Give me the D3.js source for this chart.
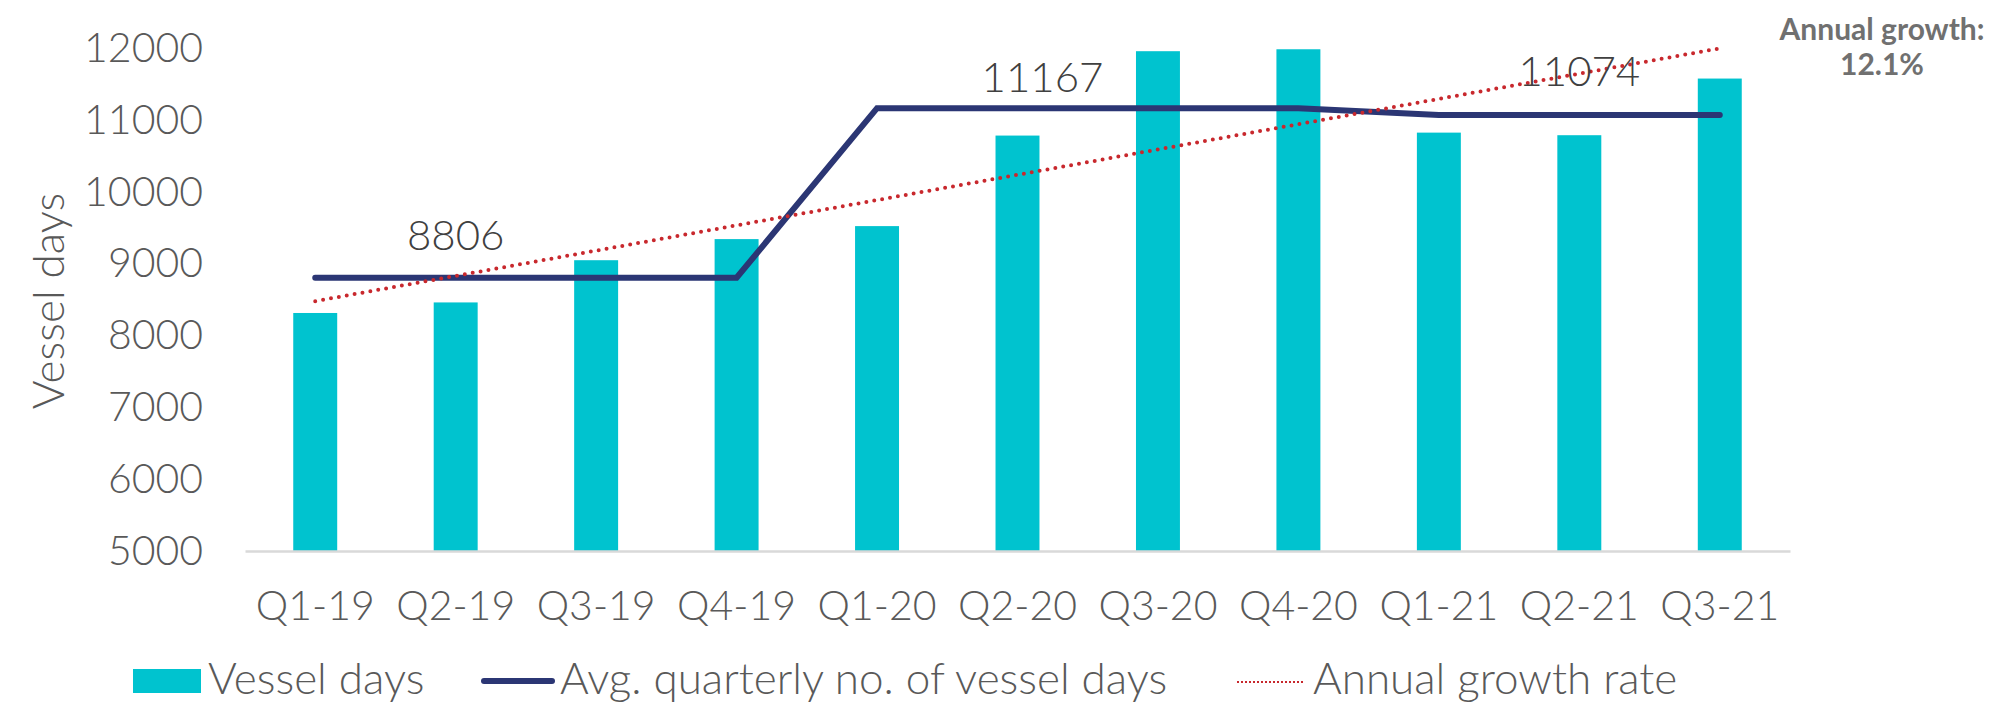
<!DOCTYPE html>
<html>
<head>
<meta charset="utf-8">
<script src="https://cdn.jsdelivr.net/npm/d3@7"></script>
<style>
  body { margin: 0; background: #fff; }
  svg { display: block; font-family: Lato, "Open Sans", sans-serif; font-weight: 300; }
</style>
</head>
<body>
<svg id="chart" width="1998" height="703"></svg>
<script>
var quarters = ["Q1-19", "Q2-19", "Q3-19", "Q4-19", "Q1-20", "Q2-20", "Q3-20", "Q4-20", "Q1-21", "Q2-21", "Q3-21"];
var vesselDays = [8315, 8462, 9050, 9344, 9525, 10786, 11961, 11988, 10827, 10791, 11580];
var avgQuarterly = [8806, 8806, 8806, 8806, 11167, 11167, 11167, 11167, 11074, 11074, 11074];
var trendQuarters = ["Q1-19", "Q3-21"];
var trendValues = [8480, 12000];
var yTicks = [5000, 6000, 7000, 8000, 9000, 10000, 11000, 12000];
var avgLabelQuarters = ["Q2-19", "Q2-20", "Q2-21"];
var avgLabelValues = [8806, 11167, 11074];

var svg = d3.select("svg#chart");

var x = d3.scaleBand()
    .domain(quarters)
    .range([245, 1790])
    .paddingInner(0.687)
    .paddingOuter(0.3435);

var y = d3.scaleLinear()
    .domain([5000, 12000])
    .range([551, 48.4]);

var cx = function(q) { return x(q) + x.bandwidth() / 2; };

// y axis
var yAxis = svg.append("g")
    .attr("transform", "translate(245,0)")
    .call(d3.axisLeft(y).tickValues(yTicks).tickSize(0).tickPadding(42).tickFormat(d3.format("d")));
yAxis.select(".domain").remove();
yAxis.selectAll("text")
    .attr("fill", "#595959")
    .style("font-size", "41px")
    .style("font-family", "Lato, sans-serif")
    .style("font-weight", 300);

svg.append("text")
    .attr("transform", "translate(64,301) rotate(-90)")
    .attr("text-anchor", "middle")
    .attr("fill", "#595959")
    .style("font-size", "44px")
    .text("Vessel days");

// bars
svg.append("g").selectAll("rect")
    .data(quarters)
    .enter().append("rect")
      .attr("x", function(d) { return x(d); })
      .attr("width", x.bandwidth())
      .attr("y", function(d, i) { return y(vesselDays[i]); })
      .attr("height", function(d, i) { return y(5000) - y(vesselDays[i]); })
      .attr("fill", "#00C3CF");

// x axis
var xAxis = svg.append("g")
    .attr("transform", "translate(0," + y(5000) + ")")
    .call(d3.axisBottom(x).tickSize(0).tickSizeOuter(0).tickPadding(40));
xAxis.select(".domain")
    .attr("stroke", "#D9D9D9")
    .attr("stroke-width", 2.5);
xAxis.selectAll("text")
    .attr("fill", "#595959")
    .style("font-size", "41px")
    .style("font-family", "Lato, sans-serif")
    .style("font-weight", 300);

// average line
var avgLine = d3.line()
    .x(function(d) { return cx(d); })
    .y(function(d, i) { return y(avgQuarterly[i]); });

svg.append("path")
    .datum(quarters)
    .attr("d", avgLine)
    .attr("fill", "none")
    .attr("stroke", "#2B3674")
    .attr("stroke-width", 6)
    .attr("stroke-linecap", "round");

// trend line
var trendLine = d3.line()
    .x(function(d) { return cx(d); })
    .y(function(d, i) { return y(trendValues[i]); });

svg.append("path")
    .datum(trendQuarters)
    .attr("d", trendLine)
    .attr("fill", "none")
    .attr("stroke", "#C8282D")
    .attr("stroke-width", 4)
    .attr("stroke-linecap", "round")
    .attr("stroke-dasharray", "0 8");

// average labels
var labelDx = [0, 25, 0];
var labelDy = [-28, -16, -29];
svg.append("g").selectAll("text")
    .data(avgLabelQuarters)
    .enter().append("text")
      .attr("x", function(d, i) { return cx(d) + labelDx[i]; })
      .attr("y", function(d, i) { return y(avgLabelValues[i]) + labelDy[i]; })
      .attr("text-anchor", "middle")
      .attr("fill", "#404040")
      .style("font-size", "42px")
      .text(function(d, i) { return avgLabelValues[i]; });

// annotation
var note = svg.append("text")
    .attr("text-anchor", "middle")
    .attr("fill", "#707070")
    .style("font-size", "30px")
    .style("font-weight", "bold");
note.append("tspan").attr("x", 1882).attr("y", 40).text("Annual growth:");
note.append("tspan").attr("x", 1882).attr("y", 75).text("12.1%");

// legend
var legend = svg.append("g").style("font-size", "44px").attr("fill", "#595959");

legend.append("rect")
    .attr("x", 133).attr("y", 669).attr("width", 68).attr("height", 24)
    .attr("fill", "#00C3CF");
legend.append("text").attr("x", 208).attr("y", 694).text("Vessel days");

legend.append("line")
    .attr("x1", 484).attr("x2", 552).attr("y1", 681).attr("y2", 681)
    .attr("stroke", "#2B3674").attr("stroke-width", 6).attr("stroke-linecap", "round");
legend.append("text").attr("x", 560).attr("y", 694).text("Avg. quarterly no. of vessel days");

legend.append("line")
    .attr("x1", 1237).attr("x2", 1305).attr("y1", 682).attr("y2", 682)
    .attr("stroke", "#C8282D").attr("stroke-width", 2.2).attr("stroke-dasharray", "2 2");
legend.append("text").attr("x", 1313).attr("y", 694).text("Annual growth rate");
</script>
</body>
</html>
